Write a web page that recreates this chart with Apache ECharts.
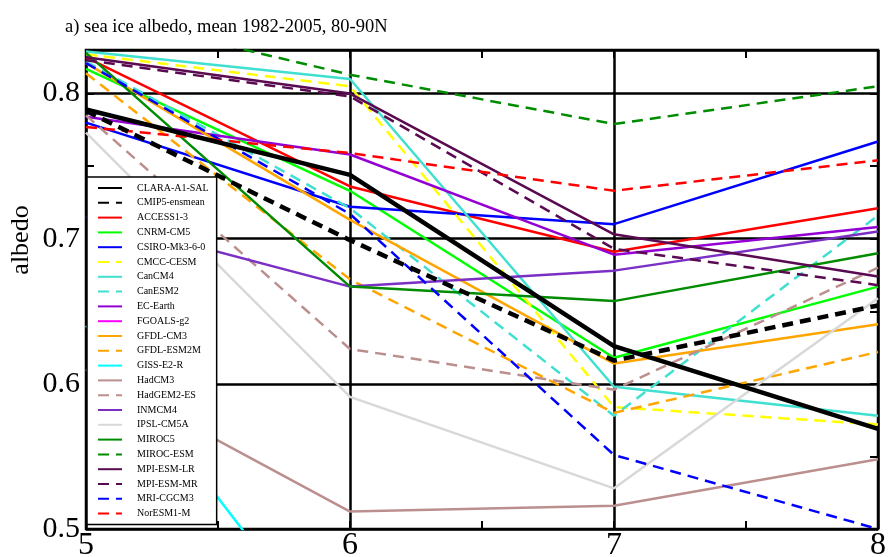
<!DOCTYPE html>
<html><head><meta charset="utf-8">
<script src="https://cdn.jsdelivr.net/npm/echarts@6/dist/echarts.min.js"></script>
<style>html,body{margin:0;padding:0;background:#fff}#c{width:888px;height:557px}</style>
</head><body><div id="c"></div>
<script>
// ---- data ----
const months = [5, 6, 7, 8];
const xTicks = [5, 6, 7, 8];
const yTicks = [0.5, 0.6, 0.7, 0.8];
const seriesNames = ["CLARA-A1-SAL","CMIP5-ensmean","ACCESS1-3","CNRM-CM5","CSIRO-Mk3-6-0","CMCC-CESM","CanCM4","CanESM2","EC-Earth","FGOALS-g2","GFDL-CM3","GFDL-ESM2M","GISS-E2-R","HadCM3","HadGEM2-ES","INMCM4","IPSL-CM5A","MIROC5","MIROC-ESM","MPI-ESM-LR","MPI-ESM-MR","MRI-CGCM3","NorESM1-M"];
const CLARA_A1_SAL  = [0.789, 0.744, 0.626, 0.569];
const CMIP5_ensmean = [0.788, 0.699, 0.616, 0.654];
const ACCESS1_3     = [0.825, 0.736, 0.691, 0.721];
const CNRM_CM5      = [0.817, 0.733, 0.618, 0.667];
const CSIRO_Mk3_6_0 = [0.780, 0.722, 0.710, 0.767];
const CMCC_CESM     = [0.827, 0.805, 0.584, 0.572];
const CanCM4        = [0.829, 0.810, 0.598, 0.578];
const CanESM2       = [0.822, 0.721, 0.578, 0.716];
const EC_Earth      = [0.784, 0.758, 0.689, 0.708];
const FGOALS_g2     = [0.470, 0.440, 0.420, 0.450];
const GFDL_CM3      = [0.821, 0.713, 0.614, 0.641];
const GFDL_ESM2M    = [0.814, 0.672, 0.580, 0.622];
const GISS_E2_R     = [0.640, 0.403, 0.350, 0.380];
const HadCM3        = [0.610, 0.512, 0.516, 0.548];
const HadGEM2_ES    = [0.785, 0.624, 0.596, 0.680];
const INMCM4        = [0.715, 0.667, 0.678, 0.705];
const IPSL_CM5A     = [0.773, 0.591, 0.528, 0.659];
const MIROC5        = [0.828, 0.667, 0.657, 0.690];
const MIROC_ESM     = [0.856, 0.813, 0.779, 0.805];
const MPI_ESM_LR    = [0.825, 0.800, 0.703, 0.674];
const MPI_ESM_MR    = [0.823, 0.798, 0.693, 0.668];
const MRI_CGCM3     = [0.821, 0.717, 0.551, 0.500];
const NorESM1_M     = [0.777, 0.759, 0.733, 0.754];
const seriesValues = [CLARA_A1_SAL, CMIP5_ensmean, ACCESS1_3, CNRM_CM5, CSIRO_Mk3_6_0, CMCC_CESM, CanCM4, CanESM2, EC_Earth, FGOALS_g2, GFDL_CM3, GFDL_ESM2M, GISS_E2_R, HadCM3, HadGEM2_ES, INMCM4, IPSL_CM5A, MIROC5, MIROC_ESM, MPI_ESM_LR, MPI_ESM_MR, MRI_CGCM3, NorESM1_M];

// ---- styles ----
const styles = [
  ["#000000", false, 4.5], ["#000000", true, 4.5], ["#ff0000", false, 2.5], ["#00ff00", false, 2.5],
  ["#0000ff", false, 2.5], ["#ffff00", true, 2.5], ["#40e0d0", false, 2.5], ["#40e0d0", true, 2.5],
  ["#9400d3", false, 2.5], ["#ff00ff", false, 2.5], ["#ffa500", false, 2.5], ["#ffa500", true, 2.5],
  ["#00ffff", false, 2.5], ["#bc8f8f", false, 2.5], ["#bc8f8f", true, 2.5], ["#7b2fc4", false, 2.5],
  ["#d8d8d8", false, 2.5], ["#008c00", false, 2.5], ["#008c00", true, 2.5], ["#5a0a50", false, 2.5],
  ["#5a0a50", true, 2.5], ["#0000ff", true, 2.5], ["#ff0000", true, 2.5]
];
const FONT = "'Liberation Serif', 'DejaVu Serif', serif";

const series = seriesNames.map((name, i) => ({
  name, type: 'line', xAxisIndex: 0, yAxisIndex: 0, symbol: 'none', clip: true,
  z: i < 2 ? 3 : 2,
  data: months.map((m, j) => [m, seriesValues[i][j]]),
  itemStyle: { color: styles[i][0] },
  lineStyle: { color: styles[i][0], width: styles[i][2], type: styles[i][1] ? [11, 7] : 'solid' }
}));

const yMin = yTicks[0], yMax = 0.83;
const tickLine = { show: true, inside: true, length: 8, lineStyle: { color: '#000', width: 2 } };
const chart = echarts.init(document.getElementById('c'), null, { renderer: 'canvas' });
chart.setOption({
  animation: false,
  backgroundColor: '#fff',
  title: { text: 'a) sea ice albedo, mean 1982-2005, 80-90N', left: 60, top: 13,
    textStyle: { fontFamily: FONT, fontSize: 18.5, fontWeight: 'normal', color: '#000' } },
  graphic: [{ type: 'text', x: 21, y: 240, rotation: Math.PI / 2,
    style: { text: 'albedo', font: "26px 'Liberation Serif', serif", fill: '#000', align: 'center', verticalAlign: 'middle' } }],
  grid: { left: 86, right: 10, top: 50, bottom: 28, show: true, borderColor: '#000', borderWidth: 2.5,
    backgroundColor: 'transparent', containLabel: false, outerBoundsMode: 'none' },
  legend: {
    data: seriesNames, orient: 'vertical', left: 87, top: 177,
    backgroundColor: '#fff', borderColor: '#000', borderWidth: 1.5, borderRadius: 0,
    padding: [6, 8, 6, 10], itemWidth: 24, itemHeight: 10, itemGap: 4.8,
    itemStyle: { opacity: 0 },
    textStyle: { fontFamily: FONT, fontSize: 10, color: '#000', padding: [0, 0, 0, 10] }
  },
  xAxis: [
    { type: 'value', min: xTicks[0], max: xTicks[xTicks.length - 1], interval: 1, position: 'bottom',
      axisLine: { show: false }, axisTick: { show: false },
      axisLabel: { fontFamily: FONT, fontSize: 32, color: '#000', margin: 1 },
      splitLine: { show: true, lineStyle: { color: '#000', width: 2.5 } } },
    { type: 'value', min: xTicks[0], max: xTicks[xTicks.length - 1], interval: 0.5, position: 'bottom',
      axisLine: { show: false }, axisTick: tickLine, axisLabel: { show: false }, splitLine: { show: false } },
    { type: 'value', min: xTicks[0], max: xTicks[xTicks.length - 1], interval: 0.5, position: 'top',
      axisLine: { show: false }, axisTick: tickLine, axisLabel: { show: false }, splitLine: { show: false } }
  ],
  yAxis: [
    { type: 'value', min: yMin, max: yMax, interval: 0.1, position: 'left',
      axisLine: { show: false }, axisTick: { show: false },
      axisLabel: { fontFamily: FONT, fontSize: 30, color: '#000', margin: 6, showMaxLabel: false,
        formatter: v => yTicks.some(t => Math.abs(t - v) < 1e-6) ? v.toFixed(1) : '' },
      splitLine: { show: true, lineStyle: { color: '#000', width: 2.5 } } },
    { type: 'value', min: yMin, max: yMax, interval: 0.05, position: 'left',
      axisLine: { show: false }, axisTick: tickLine, axisLabel: { show: false }, splitLine: { show: false } },
    { type: 'value', min: yMin, max: yMax, interval: 0.05, position: 'right',
      axisLine: { show: false }, axisTick: tickLine, axisLabel: { show: false }, splitLine: { show: false } }
  ],
  series
});
</script></body></html>
